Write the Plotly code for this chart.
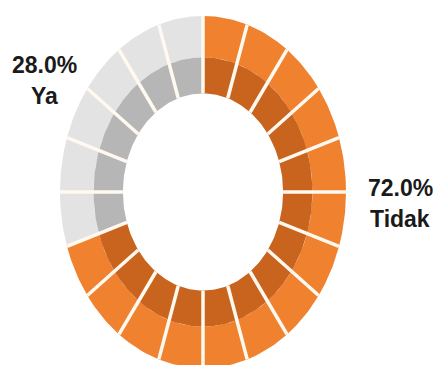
import numpy as np
import plotly.graph_objects as go

# data
labels = ["Tidak", "Ya"]
percents = [72.0, 28.0]
n_segments = 20

# styling
light_colors = ["#EF812F", "#E3E3E3"]
dark_colors = ["#C9641F", "#B6B6B6"]
gap_color = "#FFF9F0"
r_inner, r_mid, r_outer = 0.56, 0.765, 1.0
seg_angle = 360 / n_segments

W, H = 435, 365
cx, cy, rx, ry = 203, 192, 143, 176

counts = [round(p / 100 * n_segments) for p in percents]


def band_path(start_idx, count, r0, r1):
    xs, ys = [], []
    for i in range(start_idx, start_idx + count):
        a0 = np.radians(90 - i * seg_angle)
        a1 = np.radians(90 - (i + 1) * seg_angle)
        t = np.linspace(a0, a1, 16)
        xs += list(r1 * np.cos(t)) + list(r0 * np.cos(t[::-1])) + [r1 * np.cos(a0), None]
        ys += list(r1 * np.sin(t)) + list(r0 * np.sin(t[::-1])) + [r1 * np.sin(a0), None]
    return xs, ys


fig = go.Figure()

start = 0
for label, count, light, dark in zip(labels, counts, light_colors, dark_colors):
    for r0, r1, col in [(r_mid, r_outer, light), (r_inner, r_mid, dark)]:
        xs, ys = band_path(start, count, r0, r1)
        fig.add_trace(go.Scatter(
            x=xs, y=ys, mode="lines", fill="toself",
            fillcolor=col, line=dict(width=0, color=col),
            hoverinfo="skip", showlegend=False, name=label,
        ))
    start += count

# white gaps between the segments
gx, gy = [], []
for i in range(n_segments):
    a = np.radians(90 - i * seg_angle)
    gx += [r_inner * np.cos(a), r_outer * np.cos(a), None]
    gy += [r_inner * np.sin(a), r_outer * np.sin(a), None]
fig.add_trace(go.Scatter(
    x=gx, y=gy, mode="lines", line=dict(color=gap_color, width=3.5),
    hoverinfo="skip", showlegend=False,
))

# labels
font = dict(family="Liberation Sans, Arial", size=23, color="#1a1a1a", weight="bold")
label_pos = {"Tidak": (400, 188, 219), "Ya": (44, 65, 96)}
for label, p in zip(labels, percents):
    px, py1, py2 = label_pos[label]
    for text, py in [(f"{p:.1f}%", py1), (label, py2)]:
        fig.add_annotation(
            x=px / W, y=1 - py / H, xref="paper", yref="paper",
            text=text, showarrow=False, font=font,
            xanchor="center", yanchor="middle",
        )

fig.update_xaxes(range=[-cx / rx, (W - cx) / rx], visible=False, fixedrange=True)
fig.update_yaxes(range=[(cy - H) / ry, cy / ry], visible=False, fixedrange=True)
fig.update_layout(
    width=W, height=H,
    margin=dict(l=0, r=0, t=0, b=0),
    paper_bgcolor="white", plot_bgcolor="white",
)

# drop the default page margin so the chart sits at the window's corner
fig.write_html(
    "out.html",
    config={"displayModeBar": False},
    post_script="document.body.style.margin='0';document.body.style.overflow='hidden';",
)
